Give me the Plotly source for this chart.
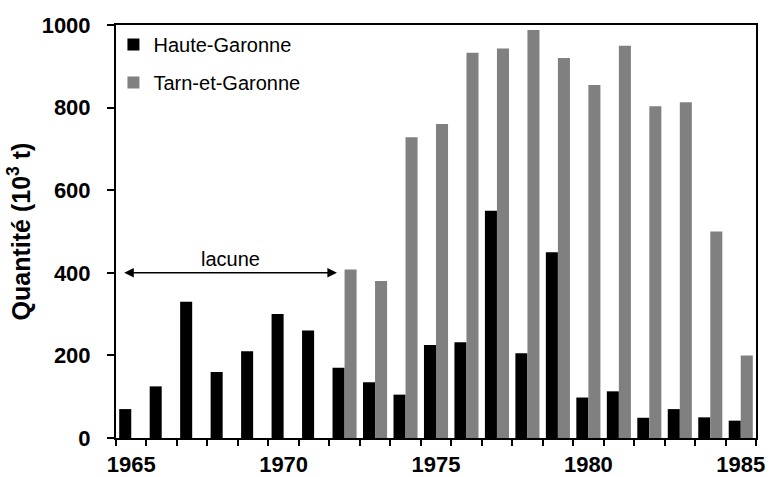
import plotly.graph_objects as go

# Quantities per year, in thousands of tonnes
years = list(range(1965, 1986))
haute_garonne = [70, 125, 330, 160, 210, 300, 260, 170, 135, 105, 225, 232,
                 550, 205, 450, 98, 113, 49, 70, 50, 42]
tarn_et_garonne = [None, None, None, None, None, None, None, 408, 380, 728, 760, 933,
                   943, 988, 920, 855, 950, 803, 813, 500, 200]
year_labels = [1965, 1970, 1975, 1980, 1985]

FONT = "Liberation Sans, Arial, sans-serif"

fig = go.Figure()
fig.add_trace(go.Bar(x=years, y=haute_garonne, name="Haute-Garonne",
                     marker=dict(color="#000000", line=dict(width=0)),
                     legendgroup="hg"))
fig.add_trace(go.Bar(x=years, y=tarn_et_garonne, name="Tarn-et-Garonne",
                     marker=dict(color="#808080", line=dict(width=0)),
                     legendgroup="tg"))

# Double-headed arrow marking the missing Tarn-et-Garonne years
fig.add_annotation(x=1971.75, y=400, ax=1964.72, ay=400,
                   xref="x", yref="y", axref="x", ayref="y",
                   text="", showarrow=True, arrowhead=2, startarrowhead=2,
                   arrowside="end+start", arrowsize=1.2, startarrowsize=1.2,
                   arrowwidth=1.6, arrowcolor="#000000")
fig.add_annotation(x=1968.26, y=433, xref="x", yref="y", text="lacune",
                   showarrow=False, font=dict(family=FONT, size=20, color="#000000"))

fig.update_layout(
    width=771, height=477,
    margin=dict(l=116, r=15, t=25, b=39, autoexpand=False),
    paper_bgcolor="white", plot_bgcolor="white",
    barmode="group", bargap=0.21, bargroupgap=0,
    font=dict(family=FONT, color="#000000"),
    legend=dict(x=-0.004, y=1.0, xanchor="left", yanchor="top",
                font=dict(family=FONT, size=20, color="#000000"),
                bgcolor="rgba(0,0,0,0)", traceorder="grouped",
                tracegroupgap=9),
    showlegend=True,
)

fig.update_xaxes(
    range=[1964.5, 1985.5], tickmode="array", tickvals=year_labels,
    ticktext=[str(v) for v in year_labels],
    ticks="", showgrid=False, zeroline=False,
    showline=True, linecolor="#000000", linewidth=2, mirror=True,
    tickfont=dict(family=FONT, size=22, color="#000000", weight="bold"),
    ticklabelstandoff=6,
    minor=dict(tickmode="linear", tick0=1964.5, dtick=1, ticks="outside",
               ticklen=6, tickwidth=1.6, tickcolor="#000000", showgrid=False),
)

fig.update_yaxes(
    range=[0, 1000], tickmode="array", tickvals=[0, 200, 400, 600, 800, 1000],
    ticks="outside", ticklen=7, tickwidth=1.6, tickcolor="#000000",
    showgrid=False, zeroline=False,
    showline=True, linecolor="#000000", linewidth=2, mirror=True,
    tickfont=dict(family=FONT, size=22, color="#000000", weight="bold"),
    ticklabelstandoff=12,
    title=dict(text="Quantité (10<sup>3</sup> t)", standoff=4,
               font=dict(family=FONT, size=25, color="#000000", weight="bold")),
)

fig.write_html("out.html")
